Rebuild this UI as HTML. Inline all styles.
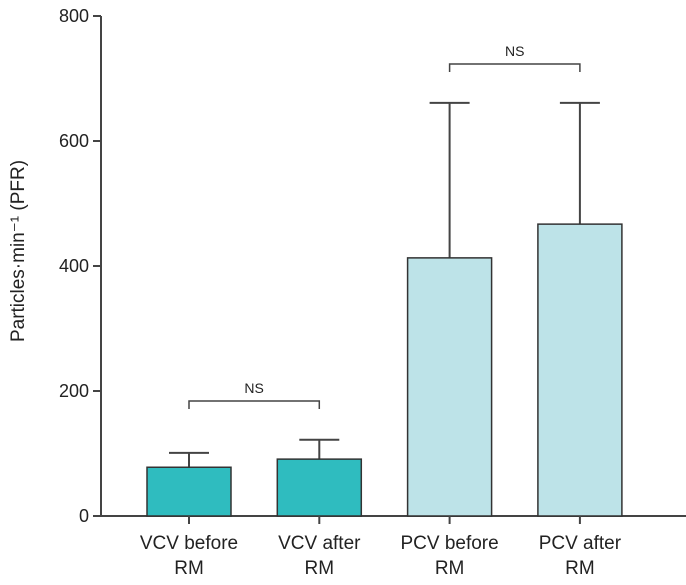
<!DOCTYPE html>
<html><head><meta charset="utf-8"><style>
body{margin:0;background:#fff}
svg text{font-family:"Liberation Sans",sans-serif;fill:#222}
</style></head><body>
<svg id="chart" width="686" height="580">
<g id="g"></g>
</svg>
<script>
const categories=[["VCV before","RM"],["VCV after","RM"],["PCV before","RM"],["PCV after","RM"]];
const means=[78,91,413,467];
const errTops=[101,122,661,661];
const colors=["#2fbcbf","#2fbcbf","#bde3e8","#bde3e8"];
const yTicks=[0,200,400,600,800];
const NS="http://www.w3.org/2000/svg";
const g=document.getElementById('g');
const y=v=>516-v*0.625;
const x=i=>189+i*130.3;
function el(t,a,txt){const e=document.createElementNS(NS,t);for(const k in a)e.setAttribute(k,a[k]);if(txt!=null)e.textContent=txt;g.appendChild(e);return e;}
const st="#444";
let e=el('line',{x1:101,y1:y(800),x2:101,y2:516,stroke:st,'stroke-width':2});


e=el('line',{x1:100,y1:516,x2:686,y2:516,stroke:st,'stroke-width':2});


yTicks.forEach(v=>{
 e=el('line',{x1:93,y1:y(v),x2:101,y2:y(v),stroke:st,'stroke-width':2});
 
 
 e=el('text',{x:89,y:y(v)+6,'text-anchor':'end','font-size':18},String(v));
 
 
});
e=el('text',{x:0,y:0,'text-anchor':'middle','font-size':19,transform:'translate(24,251) rotate(-90)'},'Particles·min⁻¹ (PFR)');


categories.forEach((c,i)=>{
 const cx=x(i);
 e=el('line',{x1:cx,y1:y(means[i]),x2:cx,y2:y(errTops[i]),stroke:st,'stroke-width':2});
 
 
 e=el('line',{x1:cx-20,y1:y(errTops[i]),x2:cx+20,y2:y(errTops[i]),stroke:st,'stroke-width':2});
 
 
 e=el('rect',{x:cx-42,y:y(means[i]),width:84,height:516-y(means[i]),fill:colors[i],stroke:'#333','stroke-width':1.5});
 
 
 e=el('line',{x1:cx,y1:516,x2:cx,y2:524,stroke:st,'stroke-width':2});
 
 
 e=el('text',{x:cx,y:549,'text-anchor':'middle','font-size':19},c[0]);
 
 
 e=el('text',{x:cx,y:574,'text-anchor':'middle','font-size':19},c[1]);
 
 
});
function bracket(a,b,yy,name){
 e=el('path',{d:`M${x(a)},${yy+8}V${yy}H${x(b)}V${yy+8}`,fill:'none',stroke:st,'stroke-width':1.5});
 
 
 e=el('text',{x:(x(a)+x(b))/2,y:yy-8,'text-anchor':'middle','font-size':14},'NS');
 
 
}
bracket(0,1,401,'vcv-significance-bracket');
bracket(2,3,64,'pcv-significance-bracket');
</script>
</body></html>
